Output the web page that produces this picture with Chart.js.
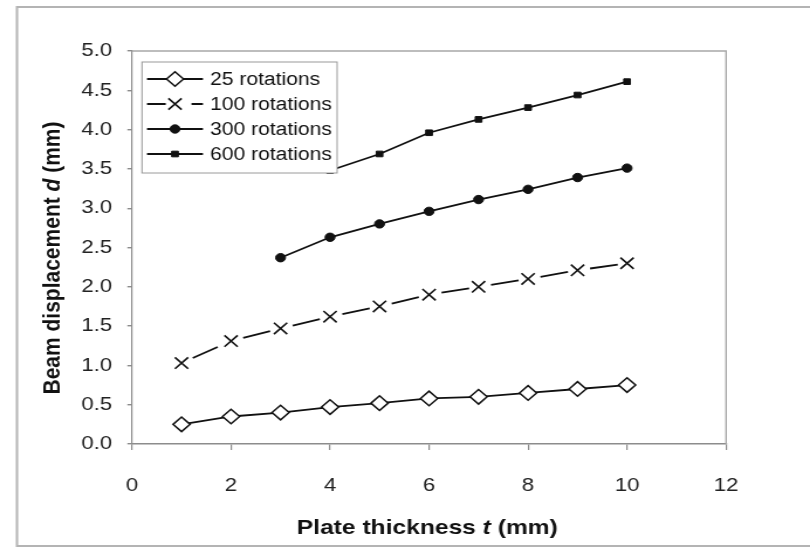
<!DOCTYPE html>
<html>
<head>
<meta charset="utf-8">
<script src="https://cdn.jsdelivr.net/npm/chart.js@4/dist/chart.umd.min.js"></script>
<style>
  html, body { margin: 0; padding: 0; background: #fff; }
  #wrap { width: 810px; height: 549px; overflow: hidden; }
  /* the drawing surface is laid out narrower and shown widened to 810px */
  #chart { display: block; width: 810px !important; height: 549px !important; }
</style>
</head>
<body>
<div id="wrap"><canvas id="chart" width="692" height="549" style="width:810px;height:549px"></canvas></div>
<script>
// Plate thickness t (mm)
const thickness = [1, 2, 3, 4, 5, 6, 7, 8, 9, 10];

// Beam displacement d (mm) per number of rotations
const rot25  = [0.25, 0.35, 0.40, 0.47, 0.52, 0.58, 0.60, 0.65, 0.70, 0.75];
const rot100 = [1.03, 1.31, 1.47, 1.62, 1.75, 1.90, 2.00, 2.10, 2.21, 2.30];
const rot300 = [null, null, 2.37, 2.63, 2.80, 2.96, 3.11, 3.24, 3.39, 3.51];
const rot600 = [null, null, null, 3.48, 3.69, 3.96, 4.13, 4.28, 4.44, 4.61];

const seriesLabels = ['25 rotations', '100 rotations', '300 rotations', '600 rotations'];

const xTicks = [0, 2, 4, 6, 8, 10, 12];
const yTicks = [0, 0.5, 1, 1.5, 2, 2.5, 3, 3.5, 4, 4.5, 5];

const FONT = '"Liberation Sans", Arial, Helvetica, sans-serif';
const INK = '#111';

function pts(values) {
  const out = [];
  values.forEach((v, i) => { if (v !== null) out.push({ x: thickness[i], y: v }); });
  return out;
}

// marker descriptions shared by the plotted series and the legend
const markers = [
  { style: 'rectRot',  radius: 7.3, border: 1.5, fill: '#fff' },
  { style: 'crossRot', radius: 8,   border: 1.6, fill: INK },
  { style: 'circle',   radius: 4.2, border: 1,   fill: INK },
  { style: 'rect',     radius: 4,   border: 1,   fill: INK }
];

// the 100-rotation line: one dash centred between neighbouring markers
const DASH = [24, 100];
const DASH_START = 10.8;
const dashOffset = DASH[0] + DASH[1] - DASH_START;

function makeDataset(i, values) {
  const m = markers[i];
  const ds = {
    label: seriesLabels[i],
    data: pts(values),
    borderColor: INK,
    borderWidth: 1.8,
    pointStyle: m.style,
    pointRadius: m.radius,
    pointHoverRadius: m.radius,
    pointBorderWidth: m.border,
    pointBorderColor: INK,
    pointBackgroundColor: m.fill,
    tension: 0,
    fill: false
  };
  if (i === 1) {
    // each segment gets its own stroke so the dash pattern restarts at every point
    ds.segment = {
      borderDash: () => DASH,
      borderDashOffset: c => (c.p0DataIndex % 2 ? dashOffset + DASH[0] + DASH[1] : dashOffset)
    };
  }
  return ds;
}

function drawMarker(ctx, m, x, y) {
  ctx.save();
  ctx.setLineDash([]);
  ctx.lineWidth = m.border;
  ctx.strokeStyle = INK;
  ctx.fillStyle = m.fill;
  const r = m.radius;
  ctx.beginPath();
  if (m.style === 'rectRot') {
    ctx.moveTo(x - r, y); ctx.lineTo(x, y - r); ctx.lineTo(x + r, y); ctx.lineTo(x, y + r); ctx.closePath();
    ctx.fill(); ctx.stroke();
  } else if (m.style === 'crossRot') {
    const o = r * Math.SQRT1_2;
    ctx.moveTo(x - o, y - o); ctx.lineTo(x + o, y + o);
    ctx.moveTo(x - o, y + o); ctx.lineTo(x + o, y - o);
    ctx.stroke();
  } else if (m.style === 'circle') {
    ctx.arc(x, y, r, 0, Math.PI * 2);
    ctx.fill(); ctx.stroke();
  } else {
    const s = r * Math.SQRT1_2;
    ctx.rect(x - s, y - s, 2 * s, 2 * s);
    ctx.fill(); ctx.stroke();
  }
  ctx.restore();
}

// outer frame and plot-area outline
const framePlugin = {
  id: 'frame',
  beforeDraw(chart) {
    const ctx = chart.ctx;
    ctx.save();
    ctx.fillStyle = '#fff';
    ctx.fillRect(0, 0, chart.width, chart.height);
    ctx.strokeStyle = '#b4b4b4';
    ctx.lineWidth = 2;
    ctx.beginPath();
    ctx.moveTo(chart.width + 5, 7);
    ctx.lineTo(14.5, 7);
    ctx.lineTo(14.5, 546);
    ctx.lineTo(chart.width + 5, 546);
    ctx.stroke();
    ctx.restore();
  },
  beforeDatasetsDraw(chart) {
    const { ctx, chartArea: a } = chart;
    ctx.save();
    ctx.strokeStyle = '#a8a8a8';
    ctx.lineWidth = 1.4;
    ctx.beginPath();
    ctx.moveTo(a.left, a.top);
    ctx.lineTo(a.right, a.top);
    ctx.lineTo(a.right, a.bottom);
    ctx.stroke();
    ctx.restore();
  }
};

// boxed legend inside the plot and the axis titles with italic symbols
const annotatePlugin = {
  id: 'annotate',
  afterDatasetsDraw(chart) {
    const ctx = chart.ctx;
    const box = { left: 121.3, top: 62, right: 288, bottom: 173 };
    ctx.save();
    ctx.fillStyle = '#fff';
    ctx.fillRect(box.left, box.top, box.right - box.left, box.bottom - box.top);
    ctx.strokeStyle = '#9a9a9a';
    ctx.lineWidth = 1;
    ctx.strokeRect(box.left, box.top, box.right - box.left, box.bottom - box.top);

    const rows = [79, 104, 129, 154];
    const x0 = 125.6, x1 = 173.4, xm = (x0 + x1) / 2;
    chart.data.datasets.forEach((ds, i) => {
      const y = rows[i];
      ctx.strokeStyle = INK;
      ctx.lineWidth = 1.8;
      ctx.setLineDash(i === 1 ? [16, 22] : []);
      ctx.beginPath();
      ctx.moveTo(x0, y);
      ctx.lineTo(x1, y);
      ctx.stroke();
      ctx.setLineDash([]);
      drawMarker(ctx, markers[i], xm, y);
      ctx.fillStyle = INK;
      ctx.font = '18px ' + FONT;
      ctx.textAlign = 'left';
      ctx.textBaseline = 'middle';
      ctx.fillText(ds.label, 179.4, y + 1);
    });
    ctx.restore();
  },
  afterDraw(chart) {
    const ctx = chart.ctx;
    const a = chart.chartArea;
    const bold = 'bold 21px ' + FONT;
    const boldIt = 'italic bold 21px ' + FONT;

    function mixed(parts, cx, cy) {
      let w = 0;
      parts.forEach(p => { ctx.font = p[1]; w += ctx.measureText(p[0]).width; });
      let x = cx - w / 2;
      parts.forEach(p => {
        ctx.font = p[1];
        ctx.fillText(p[0], x, cy);
        x += ctx.measureText(p[0]).width;
      });
    }

    ctx.save();
    ctx.fillStyle = INK;
    ctx.textAlign = 'left';
    ctx.textBaseline = 'middle';
    mixed([['Plate thickness ', bold], ['t', boldIt], [' (mm)', bold]], (a.left + a.right) / 2 - 1.5, 528);

    ctx.translate(45, 258);
    ctx.rotate(-Math.PI / 2);
    mixed([['Beam displacement ', bold], ['d', boldIt], [' (mm)', bold]], 0, 0);
    ctx.restore();
  }
};

new Chart(document.getElementById('chart'), {
  type: 'line',
  data: {
    datasets: [
      makeDataset(0, rot25),
      makeDataset(1, rot100),
      makeDataset(2, rot300),
      makeDataset(3, rot600)
    ]
  },
  options: {
    responsive: false,
    devicePixelRatio: 1,
    animation: false,
    events: [],
    layout: { padding: { left: 0, top: 51, right: 71.7, bottom: 0 } },
    plugins: { legend: { display: false }, tooltip: { enabled: false } },
    scales: {
      x: {
        type: 'linear',
        min: 0,
        max: 12,
        afterBuildTicks: s => { s.ticks = xTicks.map(v => ({ value: v })); },
        afterFit: s => { s.height = 105; },
        border: { display: true, color: '#8c8c8c', width: 1.4 },
        grid: { display: true, drawOnChartArea: false, drawTicks: true, tickLength: 6, color: '#8c8c8c', lineWidth: 1.2 },
        ticks: { color: '#222', padding: 24, font: { family: FONT, size: 19 }, maxRotation: 0, autoSkip: false },
        title: { display: false }
      },
      y: {
        type: 'linear',
        min: 0,
        max: 5,
        afterBuildTicks: s => { s.ticks = yTicks.map(v => ({ value: v })); },
        afterFit: s => { s.width = 112.8; },
        border: { display: true, color: '#8c8c8c', width: 1.2 },
        grid: { display: true, drawOnChartArea: false, drawTicks: true, tickLength: 4, color: '#8c8c8c', lineWidth: 1.4 },
        ticks: { color: '#222', padding: 13, font: { family: FONT, size: 19 }, autoSkip: false, callback: v => Number(v).toFixed(1) },
        title: { display: false }
      }
    }
  },
  plugins: [framePlugin, annotatePlugin]
});
</script>
</body>
</html>
